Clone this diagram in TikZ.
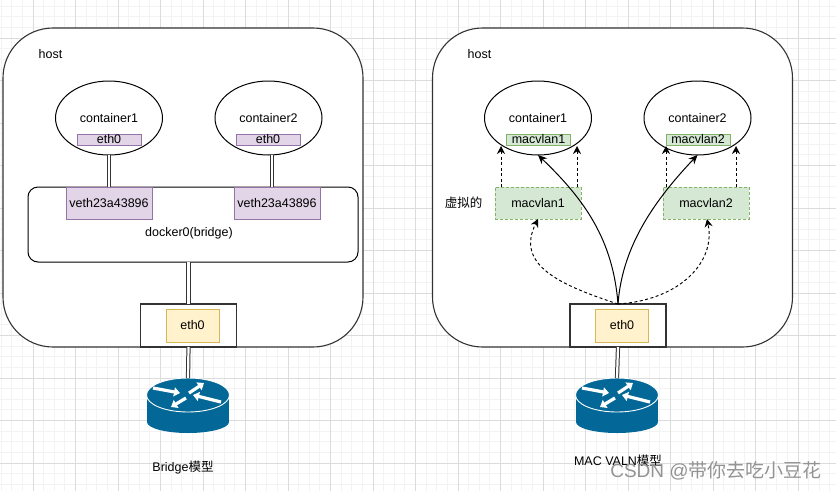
\documentclass[tikz,border=0pt]{standalone}
\usepackage{fontspec}
\setmainfont{Liberation Sans}
\newfontfamily\cjk{Noto Sans CJK SC}
\usetikzlibrary{arrows.meta,shapes.geometric}
\definecolor{gridminor}{HTML}{F3F3F3}
\definecolor{gridmajor}{HTML}{DCDCDC}
\definecolor{linedark}{HTML}{333333}
\definecolor{purplefill}{HTML}{E1D5E7}
\definecolor{purpleline}{HTML}{9673A6}
\definecolor{greenfill}{HTML}{D5E8D4}
\definecolor{greenline}{HTML}{82B366}
\definecolor{yellowfill}{HTML}{FFF2CC}
\definecolor{yellowline}{HTML}{D6B656}
\definecolor{routerblue}{HTML}{036897}
\tikzset{
  hostbox/.style={draw=linedark,fill=white,line width=1.1pt,rounded corners=50pt,minimum width=360,minimum height=319,inner sep=0,outer sep=0},
  containernode/.style={ellipse,draw=black,fill=white,line width=1pt,minimum width=107,minimum height=74,inner sep=0,outer sep=0},
  bridgebox/.style={draw=black,fill=white,line width=1pt,rounded corners=10pt,minimum width=330,minimum height=75,inner sep=0,outer sep=0},
  porttag/.style={draw=purpleline,fill=purplefill,line width=1pt,minimum width=64,minimum height=11,inner sep=0,outer sep=0},
  vethbox/.style={draw=purpleline,fill=purplefill,line width=1pt,minimum width=86,minimum height=32,inner sep=0,outer sep=0},
  mactag/.style={draw=greenline,fill=greenfill,line width=1pt,minimum width=64,minimum height=11,inner sep=0,outer sep=0},
  macbox/.style={draw=greenline,fill=greenfill,line width=1pt,dash pattern=on 3pt off 2pt,minimum width=86,minimum height=32,inner sep=0,outer sep=0},
  nicbox/.style={draw=linedark,fill=white,line width=1.1pt,minimum width=96,minimum height=43,inner sep=0,outer sep=0},
  ethbox/.style={draw=yellowline,fill=yellowfill,line width=1pt,minimum width=53,minimum height=33,inner sep=0,outer sep=0},
  dbl/.style={draw=linedark,double=white,double distance=2.2pt,line width=1pt},
  virt/.style={draw=black,line width=.95pt,dash pattern=on 3pt off 2.5pt,-{Stealth[length=8pt,width=8pt]}},
  real/.style={draw=black,line width=1pt,-{Stealth[length=9pt,width=8pt]}},
  pics/routericon/.style={code={
    \fill[routerblue] (-41,0) rectangle (41,27);
    \fill[routerblue] (0,27) ellipse[x radius=41,y radius=11];
    \draw[white,fill=routerblue,line width=.9pt] (0,0) ellipse[x radius=41.5,y radius=17];
    \foreach \ax/\ay/\bx/\by in {-35/-7/-8/-2,1/-2/16/-12,33/7/5/0,-2/3/-17/12}
      \draw[white,line width=3.2pt,-{Triangle[length=6pt,width=9pt]}] (\ax,\ay) -- (\bx,\by);
    \coordinate (-top) at (0,-17);
  }}
}
\begin{document}
\begin{tikzpicture}[x=1pt,y=-1pt,every node/.style={font=\fontsize{12.5}{14}\selectfont}]
  \useasboundingbox (0,0) rectangle (836,491);
  \clip (0,0) rectangle (836,491);
  % grid
  \foreach \k in {-3,...,78} {
    \draw[gridminor,line width=1pt] ({33+\k*10.625},0) -- ({33+\k*10.625},491);
  }
  \foreach \k in {-3,...,45} {
    \draw[gridminor,line width=1pt] (0,{38+\k*10.625}) -- (836,{38+\k*10.625});
  }
  \foreach \k in {0,...,19} {
    \draw[gridmajor,line width=1pt] ({33+\k*42.5},0) -- ({33+\k*42.5},491);
  }
  \foreach \k in {0,...,10} {
    \draw[gridmajor,line width=1pt] (0,{38+\k*42.5}) -- (836,{38+\k*42.5});
  }

  % bridge model
  \node[hostbox] (hosta) at (183,187.5) {};
  \node (hostatext) at (50.5,54) {host};
  \node[containernode] (c1) at (109,118) {container1};
  \node[containernode] (c2) at (268.5,118) {container2};
  \node[porttag] (p1) at (109,139.5) {eth0};
  \node[porttag] (p2) at (268,139.5) {eth0};
  \node[bridgebox] (docker) at (193,224.5) {};
  \node (dockertext) at (189,233) {docker0(bridge)};
  \node[vethbox] (v1) at (109,203) {veth23a43896};
  \node[vethbox] (v2) at (277,203) {veth23a43896};
  \node[nicbox] (nica) at (188.5,325.5) {};
  \node[ethbox] (etha) at (192.5,325.5) {eth0};
  \pic (ra) at (188,395) {routericon};
  \node (modela) at (183,468) {Bridge{\cjk 模型}};
  \coordinate (c2low) at (272,155);
  \coordinate (v2top) at (272,187);
  \draw[dbl] (c1.south) -- (v1.north);
  \draw[dbl] (c2low) -- (v2top);
  \draw[dbl] (docker.south -| nica.north) -- (nica.north);
  \draw[dbl] (nica.south) -- (ra-top);

  % macvlan model
  \node[hostbox] (hostb) at (612.5,187.5) {};
  \node (hostbtext) at (479.5,54) {host};
  \node[containernode] (c3) at (538,118) {container1};
  \node[containernode] (c4) at (697.5,118) {container2};
  \node[mactag] (m1) at (538.5,139.5) {macvlan1};
  \node[mactag] (m2) at (698,139.5) {macvlan2};
  \node[macbox] (b1) at (538,203) {macvlan1};
  \node[macbox] (b2) at (706,203) {macvlan2};
  \node (virttext) at (463.5,203) {\cjk 虚拟的};
  \node[nicbox] (nicb) at (618,325.5) {};
  \node[ethbox] (ethb) at (622,325.5) {eth0};
  \pic (rb) at (617,395) {routericon};
  \node (modelb) at (618,461) {MAC VALN{\cjk 模型}};
  \draw[dbl] (nicb.south) -- (rb-top);
  \draw[virt] (b1.north west) ++(6,0) -- ++(0,-41);
  \draw[virt] (b1.north east) ++(-4,0) -- ++(0,-41);
  \draw[virt] (b2.north west) ++(3,0) -- ++(0,-41);
  \draw[virt] (b2.north east) ++(-13,0) -- ++(0,-41);
  \draw[real] (nicb.north) .. controls (613,240) and (585,200) .. (c3.south);
  \draw[real] (nicb.north) .. controls (622,250) and (650,205) .. (c4.south);
  \draw[virt] (nicb.north) .. controls (560,285) and (515,265) .. (b1.south);
  \draw[virt] (nicb.north) .. controls (680,300) and (716,262) .. (b2.south -| 707,0);

  % watermark
  \node[text=gray!85,font=\fontsize{19}{22}\selectfont] (mark) at (716,471) {CSDN @{\cjk 带你去吃小豆花}};
\end{tikzpicture}
\end{document}
